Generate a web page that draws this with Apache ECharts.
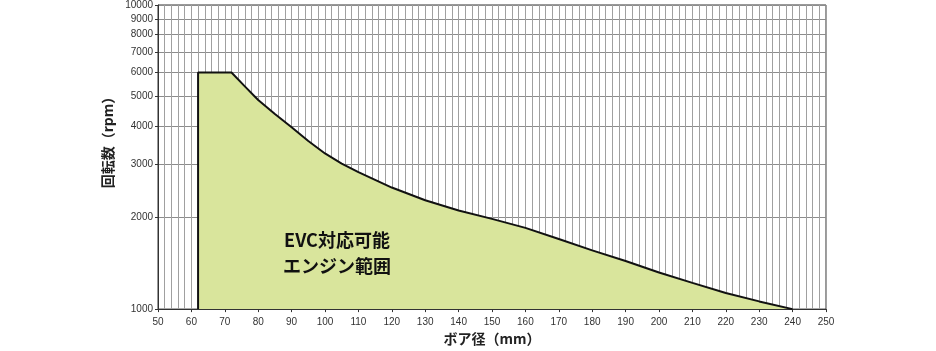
<!DOCTYPE html>
<html>
<head>
<meta charset="utf-8">
<style>
  html, body { margin: 0; padding: 0; background: #fff; }
  #chart { width: 936px; height: 351px; }
</style>
</head>
<body>
<div id="chart"></div>
<script src="https://cdn.jsdelivr.net/npm/echarts@6/dist/echarts.min.js"></script>
<script>
	// ボア径 (mm) と 回転数 (rpm) の境界
	var boreMm = [62, 62, 72, 76, 80, 85, 90, 95, 100, 105, 110, 115, 120, 130, 140, 150, 160, 170, 180, 190, 200, 210, 220, 230, 240];
	var rpm = [1000, 6000, 6000, 5400, 4870, 4380, 3960, 3570, 3250, 3010, 2820, 2660, 2510, 2280, 2110, 1980, 1850, 1700, 1560, 1440, 1320, 1220, 1130, 1060, 1000];
	var yTicks = [1000, 2000, 3000, 4000, 5000, 6000, 7000, 8000, 9000, 10000];
	var areaText = 'EVC対応可能\nエンジン範囲';

	var chart = echarts.init(document.getElementById('chart'));

	var points = [];
	for (var i = 0; i < boreMm.length; i++) {
		points.push([boreMm[i], rpm[i]]);
	}

	var labelFont = { color: '#333', fontSize: 10, fontFamily: 'Liberation Sans Narrow, Arial, sans-serif' };

	var option = {
		animation: false,
		grid: {
			left: 158, right: 110, top: 5, bottom: 38,
			show: true, borderColor: '#333', borderWidth: 1, backgroundColor: 'transparent'
		},
		xAxis: {
			type: 'value',
			min: 50, max: 250, interval: 10,
			name: 'ボア径（mm）',
			nameLocation: 'middle',
			nameGap: 22,
			nameTextStyle: { color: '#222', fontSize: 14, fontWeight: 'bold', fontFamily: 'Noto Sans CJK JP' },
			axisLine: { show: true, onZero: false, lineStyle: { color: '#333' } },
			axisTick: { show: true, length: 3, lineStyle: { color: '#333' } },
			axisLabel: labelFont,
			splitLine: { show: true, lineStyle: { color: '#a0a0a0', width: 1 } },
			minorTick: { show: false, splitNumber: 5 },
			minorSplitLine: { show: true, lineStyle: { color: '#a0a0a0', width: 1 } }
		},
		yAxis: {
			type: 'log',
			logBase: 10,
			min: 1000, max: 10000,
			name: '回転数（rpm）',
			nameLocation: 'middle',
			nameGap: 38,
			nameTextStyle: { color: '#222', fontSize: 14, fontWeight: 'bold', fontFamily: 'Noto Sans CJK JP', padding: [0, 0, 0, 36] },
			axisLine: { show: true, lineStyle: { color: '#333' } },
			axisTick: { show: true, length: 3, customValues: yTicks, lineStyle: { color: '#333' } },
			axisLabel: Object.assign({
				customValues: yTicks, margin: 5,
				formatter: function (v) { return String(Math.round(v)); }
			}, labelFont),
			splitLine: { show: true, lineStyle: { color: '#8c8c8c', width: 1 } }
		},
		graphic: [{
			type: 'text',
			left: 283, top: 227,
			z: 100,
			style: {
				text: areaText,
				textAlign: 'center',
				fill: '#111',
				fontSize: 18,
				fontWeight: 'bold',
				fontFamily: 'Noto Sans CJK JP',
				lineHeight: 26
			}
		}],
		series: [{
			type: 'line',
			data: points,
			symbol: 'none',
			smooth: false,
			lineStyle: { color: '#111', width: 2 },
			areaStyle: { color: '#d9e59c', opacity: 1, origin: 'start' },
			z: 3
		}]
	};
	chart.setOption(option);
</script>
</body>
</html>
